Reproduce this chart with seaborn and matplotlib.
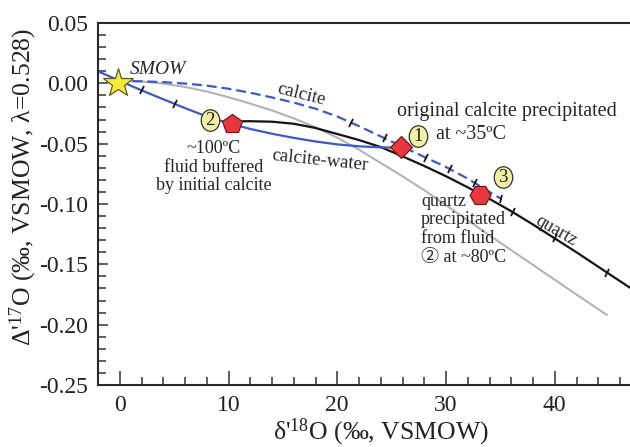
import numpy as np
import pandas as pd
import matplotlib
matplotlib.use("Agg")
import matplotlib.pyplot as plt
from matplotlib.markers import MarkerStyle
from matplotlib.transforms import Affine2D
from matplotlib.ticker import MultipleLocator, FormatStrFormatter
import seaborn as sns

# ---- data -------------------------------------------------------------
# calcite-water equilibrium path from SMOW (solid blue)
cw_x = [-2.0, 0.0, 2.0, 4.0, 6.0, 8.0, 10.0, 12.0, 14.0, 16.0, 18.0, 20.0, 22.0, 24.0, 25.0, 25.9]
cw_y = [0.0100, 0.0020, -0.0058, -0.0132, -0.0205, -0.0275, -0.0330, -0.0378, -0.0418,
        -0.0452, -0.0482, -0.0506, -0.0522, -0.0531, -0.0532, -0.0524]
cw_ticks = [2.0, 5.1]

# calcite in equilibrium with SMOW (dashed blue)
cal_x = [-0.2, 2.0, 4.0, 6.0, 8.0, 10.0, 12.0, 14.0, 16.0, 18.0, 20.0, 22.0, 24.0, 26.0,
         28.0, 30.0, 32.0, 34.0, 35.1]
cal_y = [0.0020, 0.0017, 0.0010, -0.0002, -0.0019, -0.0045, -0.0078, -0.0117, -0.0160,
         -0.0210, -0.0275, -0.0355, -0.0440, -0.0525, -0.0610, -0.0693, -0.0790, -0.0900,
         -0.0958]
cal_ticks = [21.3, 24.4, 28.2, 30.4, 32.7, 35.1]

# reference curve (grey)
gr_x = [-0.2, 2.0, 4.0, 6.0, 8.0, 10.0, 12.0, 14.0, 16.0, 18.0, 20.0, 22.0, 24.0, 26.0,
        28.0, 30.0, 34.0, 38.0, 41.5, 44.8]
gr_y = [0.0020, 0.0015, -0.0002, -0.0030, -0.0068, -0.0115, -0.0168, -0.0225, -0.0290,
        -0.0365, -0.0450, -0.0550, -0.0660, -0.0770, -0.0885, -0.1010, -0.1260, -0.1505,
        -0.1720, -0.1920]

# fluid 2 -> quartz path (black)
qz_x = [10.3, 12.0, 14.0, 16.0, 18.0, 20.0, 22.0, 24.0, 26.0, 28.0, 30.0, 32.0, 34.0,
        36.0, 38.0, 40.0, 42.0, 44.0, 46.9]
qz_y = [-0.0315, -0.0314, -0.0318, -0.0335, -0.0370, -0.0420, -0.0470, -0.0528, -0.0605,
        -0.0685, -0.0770, -0.0862, -0.0958, -0.1060, -0.1170, -0.1285, -0.1400, -0.1520,
        -0.1693]
qz_ticks = [36.15, 40.0, 44.8]

# sample points
smow = (-0.2, 0.0)
pt_fluid2 = (10.3, -0.0335)
pt_calcite1 = (25.9, -0.0524)
pt_quartz3 = (33.1, -0.0925)

# numbered labels
num_labels = ["2", "1", "3"]
num_x = [8.28, 27.44, 35.26]
num_y = [-0.0308, -0.0440, -0.0779]

x_ticks = [0, 10, 20, 30, 40]
y_ticks = [-0.25, -0.20, -0.15, -0.10, -0.05, 0.00, 0.05]

# ---- style ------------------------------------------------------------
sns.set_theme(style="ticks")
plt.rcParams["font.family"] = ["Liberation Serif", "DejaVu Serif", "Noto Sans CJK JP"]
plt.rcParams["mathtext.fontset"] = "custom"
plt.rcParams["mathtext.rm"] = "Liberation Serif"
plt.rcParams["mathtext.it"] = "Liberation Serif:italic"
plt.rcParams["axes.unicode_minus"] = False

BLUE = "#3b5bc2"
GREY = "#b3b3b3"
BLACK = "#141414"
RED = "#e8383d"
RED_EDGE = "#6e1a1a"
PALE = "#f3f0a4"
STAR = "#f5ea3c"
INK = "#333333"

fig = plt.figure(figsize=(6.3, 4.47), dpi=100)
ax = fig.add_axes([98 / 630, 62 / 447, 565.5 / 630, 362 / 447])
ax.set_xlim(-2, 50)
ax.set_ylim(-0.25, 0.05)

# ---- curves -----------------------------------------------------------
sns.lineplot(x=gr_x, y=gr_y, ax=ax, color=GREY, lw=1.5, sort=False, estimator=None)
sns.lineplot(x=qz_x, y=qz_y, ax=ax, color=BLACK, lw=1.6, sort=False, estimator=None)
sns.lineplot(x=cw_x, y=cw_y, ax=ax, color=BLUE, lw=1.6, sort=False, estimator=None)
sns.lineplot(x=cal_x, y=cal_y, ax=ax, color=BLUE, lw=1.6, sort=False, estimator=None,
             linestyle=(0, (4.5, 2.2)))


def curve_ticks(xs, ys, at):
    """Short marks drawn perpendicular to a curve at the given x values."""
    for xt in at:
        yt = np.interp(xt, xs, ys)
        p0 = ax.transData.transform((xt - 0.8, np.interp(xt - 0.8, xs, ys)))
        p1 = ax.transData.transform((xt + 0.8, np.interp(xt + 0.8, xs, ys)))
        ang = np.degrees(np.arctan2(p1[1] - p0[1], p1[0] - p0[0]))
        m = MarkerStyle("|", transform=Affine2D().rotate_deg(ang))
        ax.plot([xt], [yt], marker=m, ms=6.5, mew=1.3, color=BLACK, ls="none", zorder=4)


curve_ticks(cw_x, cw_y, cw_ticks)
curve_ticks(cal_x, cal_y, cal_ticks)
curve_ticks(qz_x, qz_y, qz_ticks)

# ---- symbols ----------------------------------------------------------
ax.plot(*smow, marker="*", ms=22, mfc=STAR, mec="#5c5a2a", mew=0.9, ls="none", zorder=6)
ax.plot(*pt_fluid2, marker="p", ms=15, mfc=RED, mec=RED_EDGE, mew=0.9, ls="none", zorder=6)
ax.plot(*pt_calcite1, marker="D", ms=11, mfc=RED, mec=RED_EDGE, mew=0.9, ls="none", zorder=6)
ax.plot(*pt_quartz3, marker="H", ms=15, mfc=RED, mec=RED_EDGE, mew=0.9, ls="none", zorder=6)

oval = MarkerStyle("o", transform=Affine2D().scale(0.86, 1.0))
for lab, xv, yv in zip(num_labels, num_x, num_y):
    ax.plot([xv], [yv], marker=oval, ms=15.5, mfc=PALE, mec=INK, mew=0.9, ls="none", zorder=7)
    ax.text(xv, yv, lab, ha="center", va="center", fontsize=13.5, color="#222222", zorder=8)

# ---- annotations ------------------------------------------------------
TXT = "#262626"
ax.text(0.92, 0.0114, "SMOW", style="italic", fontsize=14, ha="left", va="center", color=TXT)
ax.text(16.65, -0.0090, "calcite", fontsize=13.5, rotation=-14, ha="center", va="center",
        rotation_mode="anchor", color=TXT)
ax.text(18.4, -0.0640, "calcite-water", fontsize=13.5, rotation=-6, ha="center", va="center",
        rotation_mode="anchor", color=TXT)
ax.text(40.15, -0.1220, "quartz", fontsize=13, rotation=-30, ha="center", va="center",
        rotation_mode="anchor", color=TXT)
ax.text(35.6, -0.0233, "original calcite precipitated", fontsize=14.5, ha="center",
        va="center", color=TXT)
ax.text(29.1, -0.0424, "at ~35ºC", fontsize=14.5, ha="left", va="center", color=TXT)
ax.text(8.65, -0.0470, "~100ºC\nfluid buffered\nby initial calcite", fontsize=13,
        ha="center", va="top", linespacing=1.12, color=TXT)
ax.text(27.7, -0.0905, "quartz\nprecipitated\nfrom fluid\n② at ~80ºC", fontsize=13,
        ha="left", va="top", linespacing=1.15, color=TXT)

# ---- axes -------------------------------------------------------------
ax.set_xticks(x_ticks)
ax.set_yticks(y_ticks)
ax.xaxis.set_minor_locator(MultipleLocator(2))
ax.yaxis.set_minor_locator(MultipleLocator(0.01))
ax.yaxis.set_major_formatter(FormatStrFormatter("%.2f"))
ax.tick_params(axis="both", which="both", direction="in", color=INK, labelcolor="#222222",
               labelsize=17, width=1.1)
ax.tick_params(axis="x", which="major", length=10, pad=7)
ax.tick_params(axis="x", which="minor", length=5.5)
ax.tick_params(axis="y", which="major", length=7, pad=7)
ax.tick_params(axis="y", which="minor", length=5.5)
for side in ["left", "bottom", "top", "right"]:
    ax.spines[side].set_color("#2a2a2a")
    ax.spines[side].set_linewidth(1.5)

ax.set_xlabel("δ'$^{18}$O (‰, VSMOW)", fontsize=18.5, color="#222222")
ax.set_ylabel("Δ'$^{17}$O (‰, VSMOW, λ=0.528)", fontsize=18.5, color="#222222")
ax.xaxis.set_label_coords(0.5, -0.088)
ax.yaxis.set_label_coords(-0.104, 0.548)

fig.savefig("out.png", dpi=100)
